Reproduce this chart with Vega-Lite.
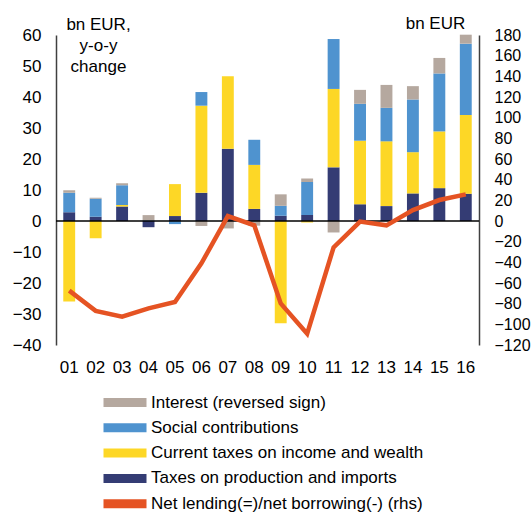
{
  "$schema": "https://vega.github.io/schema/vega-lite/v6.json",
  "width": 423,
  "height": 310,
  "autosize": {"type": "none"},
  "padding": {"left": 56, "top": 35, "right": 52, "bottom": 168},
  "background": "white",
  "config": {
    "view": {"stroke": null},
    "font": "Liberation Sans",
    "axis": {"labelFont": "Liberation Sans", "labelFontSize": 17, "labelColor": "#000", "titleFont": "Liberation Sans", "titleFontWeight": "normal", "titleFontSize": 17, "titleColor": "#000", "grid": false, "ticks": false},
    "legend": {"labelFont": "Liberation Sans", "labelFontSize": 17, "labelColor": "#000"}
  },
  "datasets": {
    "seriesOrder": [
      {"series": "Taxes on production and imports", "rank": 1},
      {"series": "Current taxes on income and wealth", "rank": 2},
      {"series": "Social contributions", "rank": 3},
      {"series": "Interest (reversed sign)", "rank": 4}
    ],
    "bars": [
      {"year": "01", "series": "Taxes on production and imports", "value": 2.8},
      {"year": "01", "series": "Current taxes on income and wealth", "value": -26.0},
      {"year": "01", "series": "Social contributions", "value": 6.3},
      {"year": "01", "series": "Interest (reversed sign)", "value": 0.8},
      {"year": "02", "series": "Taxes on production and imports", "value": 1.4},
      {"year": "02", "series": "Current taxes on income and wealth", "value": -5.6},
      {"year": "02", "series": "Social contributions", "value": 5.8},
      {"year": "02", "series": "Interest (reversed sign)", "value": 0.3},
      {"year": "03", "series": "Taxes on production and imports", "value": 4.7},
      {"year": "03", "series": "Current taxes on income and wealth", "value": 0.5},
      {"year": "03", "series": "Social contributions", "value": 6.3},
      {"year": "03", "series": "Interest (reversed sign)", "value": 0.7},
      {"year": "04", "series": "Taxes on production and imports", "value": -2.0},
      {"year": "04", "series": "Current taxes on income and wealth", "value": 0.0},
      {"year": "04", "series": "Social contributions", "value": 0.2},
      {"year": "04", "series": "Interest (reversed sign)", "value": 1.7},
      {"year": "05", "series": "Taxes on production and imports", "value": 1.6},
      {"year": "05", "series": "Current taxes on income and wealth", "value": 10.3},
      {"year": "05", "series": "Social contributions", "value": -1.0},
      {"year": "05", "series": "Interest (reversed sign)", "value": 0.0},
      {"year": "06", "series": "Taxes on production and imports", "value": 9.1},
      {"year": "06", "series": "Current taxes on income and wealth", "value": 28.1},
      {"year": "06", "series": "Social contributions", "value": 4.4},
      {"year": "06", "series": "Interest (reversed sign)", "value": -1.6},
      {"year": "07", "series": "Taxes on production and imports", "value": 23.3},
      {"year": "07", "series": "Current taxes on income and wealth", "value": 23.4},
      {"year": "07", "series": "Social contributions", "value": 0.0},
      {"year": "07", "series": "Interest (reversed sign)", "value": -2.4},
      {"year": "08", "series": "Taxes on production and imports", "value": 3.9},
      {"year": "08", "series": "Current taxes on income and wealth", "value": 14.2},
      {"year": "08", "series": "Social contributions", "value": 8.1},
      {"year": "08", "series": "Interest (reversed sign)", "value": -1.5},
      {"year": "09", "series": "Taxes on production and imports", "value": 1.7},
      {"year": "09", "series": "Current taxes on income and wealth", "value": -33.0},
      {"year": "09", "series": "Social contributions", "value": 3.2},
      {"year": "09", "series": "Interest (reversed sign)", "value": 3.7},
      {"year": "10", "series": "Taxes on production and imports", "value": 1.9},
      {"year": "10", "series": "Current taxes on income and wealth", "value": -0.5},
      {"year": "10", "series": "Social contributions", "value": 10.7},
      {"year": "10", "series": "Interest (reversed sign)", "value": 1.1},
      {"year": "11", "series": "Taxes on production and imports", "value": 17.3},
      {"year": "11", "series": "Current taxes on income and wealth", "value": 25.3},
      {"year": "11", "series": "Social contributions", "value": 16.1},
      {"year": "11", "series": "Interest (reversed sign)", "value": -3.7},
      {"year": "12", "series": "Taxes on production and imports", "value": 5.4},
      {"year": "12", "series": "Current taxes on income and wealth", "value": 20.5},
      {"year": "12", "series": "Social contributions", "value": 11.9},
      {"year": "12", "series": "Interest (reversed sign)", "value": 4.5},
      {"year": "13", "series": "Taxes on production and imports", "value": 4.8},
      {"year": "13", "series": "Current taxes on income and wealth", "value": 20.9},
      {"year": "13", "series": "Social contributions", "value": 10.8},
      {"year": "13", "series": "Interest (reversed sign)", "value": 7.4},
      {"year": "14", "series": "Taxes on production and imports", "value": 8.9},
      {"year": "14", "series": "Current taxes on income and wealth", "value": 13.3},
      {"year": "14", "series": "Social contributions", "value": 17.0},
      {"year": "14", "series": "Interest (reversed sign)", "value": 4.3},
      {"year": "15", "series": "Taxes on production and imports", "value": 10.6},
      {"year": "15", "series": "Current taxes on income and wealth", "value": 18.3},
      {"year": "15", "series": "Social contributions", "value": 18.7},
      {"year": "15", "series": "Interest (reversed sign)", "value": 5.0},
      {"year": "16", "series": "Taxes on production and imports", "value": 8.8},
      {"year": "16", "series": "Current taxes on income and wealth", "value": 25.4},
      {"year": "16", "series": "Social contributions", "value": 23.0},
      {"year": "16", "series": "Interest (reversed sign)", "value": 2.9}
    ],
    "line": [
      {"year": "01", "value": -67.4},
      {"year": "02", "value": -87.0},
      {"year": "03", "value": -92.6},
      {"year": "04", "value": -84.5},
      {"year": "05", "value": -78.4},
      {"year": "06", "value": -41.0},
      {"year": "07", "value": 4.8},
      {"year": "08", "value": -4.2},
      {"year": "09", "value": -79.7},
      {"year": "10", "value": -109.0},
      {"year": "11", "value": -25.5},
      {"year": "12", "value": -0.6},
      {"year": "13", "value": -4.2},
      {"year": "14", "value": 10.6},
      {"year": "15", "value": 20.3},
      {"year": "16", "value": 25.8}
    ]
  },
  "layer": [
    {
      "data": {"name": "bars"},
      "transform": [{"lookup": "series", "from": {"data": {"name": "seriesOrder"}, "key": "series", "fields": ["rank"]}}],
      "mark": {"type": "bar"},
      "encoding": {
        "x": {"field": "year", "type": "ordinal", "scale": {"paddingInner": 0.55, "paddingOuter": 0.275},
          "axis": {"title": null, "labelAngle": 0, "domain": false, "labelPadding": 14, "labelFontSize": 17}},
        "y": {"field": "value", "type": "quantitative", "stack": "zero",
          "scale": {"domain": [-40, 60], "nice": false, "zero": false},
          "axis": {"orient": "left", "values": [-40, -30, -20, -10, 0, 10, 20, 30, 40, 50, 60], "labelOverlap": false, "domainColor": "#404040", "domainWidth": 1.5, "labelPadding": 15,
            "title": ["bn EUR,", "y-o-y", "change"], "titleAngle": 0, "titleAlign": "center", "titleBaseline": "top", "titleLineHeight": 21, "titleX": 42, "titleY": -19}},
        "color": {"field": "series", "type": "nominal",
          "scale": {"domain": ["Interest (reversed sign)", "Social contributions", "Current taxes on income and wealth", "Taxes on production and imports", "Net lending(=)/net borrowing(-) (rhs)"],
            "range": ["#b5a89f", "#4f93cf", "#fdd726", "#343c74", "#e55323"]},
          "legend": {"title": null, "orient": "none", "legendX": 60.5, "legendY": 359, "symbolType": "M-2.6875,-0.5625H2.6875V0.5625H-2.6875Z", "symbolSize": 256, "symbolStrokeWidth": 0, "labelOffset": 17.5, "rowPadding": 7.3, "labelLimit": 420}},
        "order": {"field": "rank", "type": "quantitative", "sort": "ascending"}
      }
    },
    {
      "data": {"values": [{"v": 0}]},
      "mark": {"type": "rule", "color": "#000", "strokeWidth": 1.5},
      "encoding": {"y": {"datum": 0, "type": "quantitative", "scale": {"domain": [-40, 60], "nice": false, "zero": false}, "axis": null}}
    },
    {
      "data": {"name": "line"},
      "mark": {"type": "line", "color": "#e55323", "strokeWidth": 4.5},
      "encoding": {
        "x": {"field": "year", "type": "ordinal"},
        "y": {"field": "value", "type": "quantitative",
          "scale": {"domain": [-120, 180], "nice": false, "zero": false},
          "axis": {"orient": "right", "values": [-120, -100, -80, -60, -40, -20, 0, 20, 40, 60, 80, 100, 120, 140, 160, 180], "labelOverlap": false, "domainColor": "#404040", "domainWidth": 1.5, "labelPadding": 15, "labelFontSize": 16,
            "title": "bn EUR", "titleAngle": 0, "titleAlign": "center", "titleBaseline": "middle", "titleX": -44, "titleY": -12}}
      }
    }
  ],
  "resolve": {"scale": {"y": "independent"}}
}
